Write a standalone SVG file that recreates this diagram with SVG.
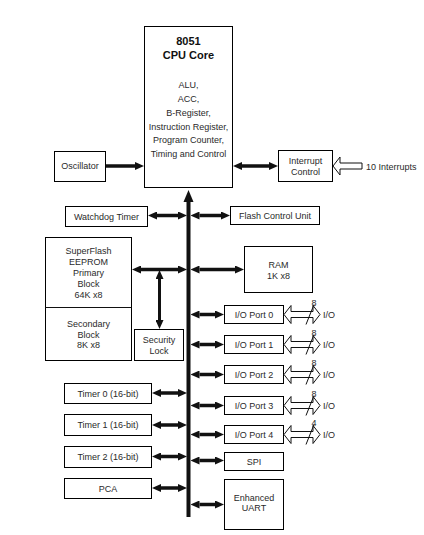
<svg xmlns="http://www.w3.org/2000/svg" width="424" height="535" viewBox="0 0 424 535">
<style>
.b{fill:#fff;stroke:#000;stroke-width:1}
text{font-family:"Liberation Sans",Arial,sans-serif;font-size:9px;fill:#2a2a2a;text-anchor:middle}
.t{font-weight:bold;font-size:11px;fill:#111}
.l{text-anchor:start}
.a{stroke:#111;stroke-width:3.5;fill:none}
.h{fill:#fff;stroke:#111;stroke-width:1}
.s{stroke:#111;stroke-width:1}
</style>
<defs>
<marker id="ah" markerUnits="userSpaceOnUse" viewBox="0 0 9 8" markerWidth="9" markerHeight="8" refX="0" refY="4" orient="auto-start-reverse">
<path d="M0,0 L9,4 L0,8 z" fill="#111"/>
</marker>
</defs>
<g id="cpu"><rect class="b" x="144.5" y="26.5" width="88" height="161"/>
<text class="t" x="188.5" y="45">8051</text><text class="t" x="188.5" y="59">CPU Core</text>
<text x="188.5" y="88">ALU,</text><text x="188.5" y="102">ACC,</text><text x="188.5" y="116">B-Register,</text><text x="188.5" y="130">Instruction Register,</text><text x="188.5" y="143">Program Counter,</text><text x="188.5" y="157">Timing and Control</text></g>
<g id="oscillator"><rect class="b" x="54.5" y="151.5" width="51" height="30"/><text x="80" y="169">Oscillator</text></g>
<g id="interrupt"><rect class="b" x="278.5" y="150.5" width="54" height="31"/><text x="305.5" y="164">Interrupt</text><text x="305.5" y="175">Control</text></g>
<g id="interrupts-in"><path class="h" d="M333,166 L340,157 L340,163 L362,163 L362,169 L340,169 L340,175 Z"/><text class="l" x="366" y="170">10 Interrupts</text></g>
<g id="watchdog"><rect class="b" x="65.5" y="206.5" width="82" height="20"/><text x="106.5" y="219.5">Watchdog Timer</text></g>
<g id="flashctl"><rect class="b" x="230.5" y="206.5" width="89" height="18"/><text x="275" y="218.5">Flash Control Unit</text></g>
<g id="superflash"><rect class="b" x="45.5" y="237.5" width="86" height="123"/><line class="s" x1="45.5" y1="307.5" x2="131.5" y2="307.5"/>
<text x="88.5" y="254">SuperFlash</text><text x="88.5" y="265">EEPROM</text><text x="88.5" y="276">Primary</text><text x="88.5" y="287">Block</text><text x="88.5" y="298">64K x8</text>
<text x="88.5" y="327">Secondary</text><text x="88.5" y="338">Block</text><text x="88.5" y="348">8K x8</text></g>
<g id="security"><rect class="b" x="134.5" y="329.5" width="49" height="31"/><text x="159" y="343">Security</text><text x="159" y="354">Lock</text></g>
<g id="ram"><rect class="b" x="244.5" y="246.5" width="68" height="46"/><text x="278.5" y="267.5">RAM</text><text x="278.5" y="278.5">1K x8</text></g>
<g id="port0"><rect class="b" x="224.5" y="305.5" width="59" height="18"/><text x="254" y="317.5">I/O Port 0</text></g>
<g id="port1"><rect class="b" x="224.5" y="335.5" width="59" height="18"/><text x="254" y="347.5">I/O Port 1</text></g>
<g id="port2"><rect class="b" x="224.5" y="365.5" width="59" height="18"/><text x="254" y="377.5">I/O Port 2</text></g>
<g id="port3"><rect class="b" x="224.5" y="396.5" width="59" height="18"/><text x="254" y="408.5">I/O Port 3</text></g>
<g id="port4"><rect class="b" x="224.5" y="425.5" width="59" height="18"/><text x="254" y="437.5">I/O Port 4</text></g>
<g id="spi"><rect class="b" x="224.5" y="452.5" width="59" height="18"/><text x="254" y="464.5">SPI</text></g>
<g id="uart"><rect class="b" x="224.5" y="479.5" width="59" height="50"/><text x="254" y="500.5">Enhanced</text><text x="254" y="511">UART</text></g>
<g id="timer0"><rect class="b" x="64.5" y="383.5" width="87" height="20"/><text x="108" y="396.5">Timer 0 (16-bit)</text></g>
<g id="timer1"><rect class="b" x="64.5" y="414.5" width="87" height="21"/><text x="108" y="428">Timer 1 (16-bit)</text></g>
<g id="timer2"><rect class="b" x="64.5" y="446.5" width="87" height="21"/><text x="108" y="460">Timer 2 (16-bit)</text></g>
<g id="pca"><rect class="b" x="64.5" y="478.5" width="87" height="20"/><text x="108" y="491.5">PCA</text></g>
<g id="io-lines">
<path class="h" d="M284,314.5 L291,305.5 L291,311.5 L313,311.5 L313,305.5 L320,314.5 L313,323.5 L313,317.5 L291,317.5 L291,323.5 Z"/><line class="s" x1="306" y1="324.5" x2="314" y2="304.5"/><text x="314" y="305.5">8</text><text class="l" x="323" y="318">I/O</text>
<path class="h" d="M284,344.5 L291,335.5 L291,341.5 L313,341.5 L313,335.5 L320,344.5 L313,353.5 L313,347.5 L291,347.5 L291,353.5 Z"/><line class="s" x1="306" y1="354.5" x2="314" y2="334.5"/><text x="314" y="335.5">8</text><text class="l" x="323" y="348">I/O</text>
<path class="h" d="M284,374.5 L291,365.5 L291,371.5 L313,371.5 L313,365.5 L320,374.5 L313,383.5 L313,377.5 L291,377.5 L291,383.5 Z"/><line class="s" x1="306" y1="384.5" x2="314" y2="364.5"/><text x="314" y="365.5">8</text><text class="l" x="323" y="378">I/O</text>
<path class="h" d="M284,405.5 L291,396.5 L291,402.5 L313,402.5 L313,396.5 L320,405.5 L313,414.5 L313,408.5 L291,408.5 L291,414.5 Z"/><line class="s" x1="306" y1="415.5" x2="314" y2="395.5"/><text x="314" y="396.5">8</text><text class="l" x="323" y="409">I/O</text>
<path class="h" d="M284,434.5 L291,425.5 L291,431.5 L313,431.5 L313,425.5 L320,434.5 L313,443.5 L313,437.5 L291,437.5 L291,443.5 Z"/><line class="s" x1="306" y1="444.5" x2="314" y2="424.5"/><text x="314" y="425.5">4</text><text class="l" x="323" y="438">I/O</text>
</g>
<g id="connectors">
<line x1="188.5" y1="200" x2="188.5" y2="517" stroke="#111" stroke-width="4"/>
<path d="M188.5,190 L183.5,202 L193.5,202 Z" fill="#111"/>
<line class="a" x1="106" y1="166" x2="135" y2="166" marker-end="url(#ah)"/>
<line class="a" x1="242" y1="166" x2="269" y2="166" marker-start="url(#ah)" marker-end="url(#ah)"/>
<line class="a" x1="157" y1="215.5" x2="178" y2="215.5" marker-start="url(#ah)" marker-end="url(#ah)"/>
<line class="a" x1="199.5" y1="215.5" x2="221" y2="215.5" marker-start="url(#ah)" marker-end="url(#ah)"/>
<line class="a" x1="141" y1="269.5" x2="178" y2="269.5" marker-start="url(#ah)" marker-end="url(#ah)"/>
<line class="a" x1="199.5" y1="269.5" x2="235" y2="269.5" marker-start="url(#ah)" marker-end="url(#ah)"/>
<line x1="159.5" y1="279" x2="159.5" y2="320" stroke="#111" stroke-width="3" marker-start="url(#ah)" marker-end="url(#ah)"/>
<line class="a" x1="199.5" y1="314.5" x2="215" y2="314.5" marker-start="url(#ah)" marker-end="url(#ah)"/>
<line class="a" x1="199.5" y1="344.5" x2="215" y2="344.5" marker-start="url(#ah)" marker-end="url(#ah)"/>
<line class="a" x1="199.5" y1="374.5" x2="215" y2="374.5" marker-start="url(#ah)" marker-end="url(#ah)"/>
<line class="a" x1="199.5" y1="405.5" x2="215" y2="405.5" marker-start="url(#ah)" marker-end="url(#ah)"/>
<line class="a" x1="199.5" y1="434.5" x2="215" y2="434.5" marker-start="url(#ah)" marker-end="url(#ah)"/>
<line class="a" x1="199.5" y1="460.5" x2="215" y2="460.5" marker-start="url(#ah)" marker-end="url(#ah)"/>
<line class="a" x1="199.5" y1="504.5" x2="215" y2="504.5" marker-start="url(#ah)" marker-end="url(#ah)"/>
<line class="a" x1="161" y1="393" x2="178" y2="393" marker-start="url(#ah)" marker-end="url(#ah)"/>
<line class="a" x1="161" y1="425" x2="178" y2="425" marker-start="url(#ah)" marker-end="url(#ah)"/>
<line class="a" x1="161" y1="456.5" x2="178" y2="456.5" marker-start="url(#ah)" marker-end="url(#ah)"/>
<line class="a" x1="161" y1="488" x2="178" y2="488" marker-start="url(#ah)" marker-end="url(#ah)"/>
</g>
</svg>
